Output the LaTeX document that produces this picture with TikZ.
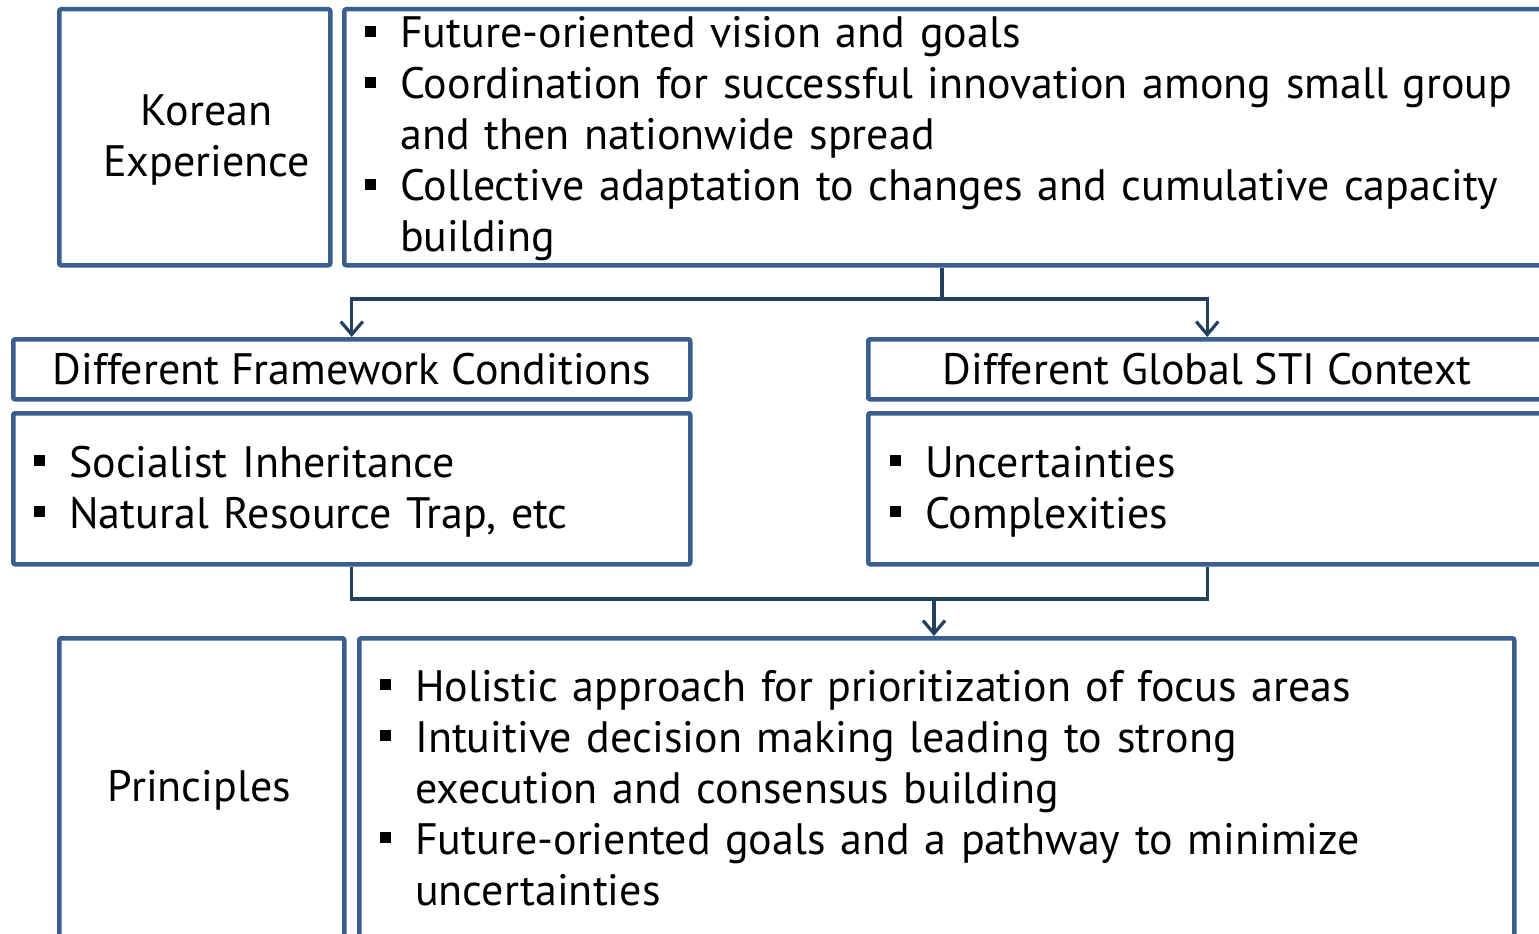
\documentclass[tikz,border=0pt]{standalone}
\usepackage{fontspec}
\setmainfont{PT Sans}
\usetikzlibrary{arrows.meta}
\definecolor{boxline}{HTML}{3A5F8E}
\definecolor{connline}{HTML}{24405F}
% square bullet, hanging indent kept across forced line breaks
\newcommand{\bmark}{\makebox[35pt][l]{\raisebox{11pt}{\rule{11pt}{11pt}}}}
\newcommand{\bfirst}{\noindent\hangindent=35pt\hangafter=1\bmark\ignorespaces}
\newcommand{\bnext}{\par\bfirst}
\newcommand{\nl}{\hfil\break}
\begin{document}
\begin{tikzpicture}[x=1pt,y=-1pt,
  every node/.style={font=\fontsize{44}{51}\selectfont},
  box/.style={draw=boxline, line width=4.5pt, rounded corners=2pt, anchor=north west, inner sep=0pt},
  list/.style={anchor=base west, inner sep=0pt, text width=1300pt, align=left},
  conn/.style={draw=connline, line width=3.2pt},
  arr/.style={conn, -{Straight Barb[length=13pt,width=22pt,line width=3.2pt]}}]
\useasboundingbox (0,0) rectangle (1539,934);
\clip (0,0) rectangle (1539,934);
\fill[white] (0,0) rectangle (1539,934);

% top row
\node[box, minimum width=271pt, minimum height=256pt] (ke) at (57,7) {};
\node[align=center, xshift=12pt, yshift=-3pt] (ketxt) at (ke.center) {Korean\\Experience};
\node[box, minimum width=1230pt, minimum height=256pt] (kl) at (342,7) {};
\node[list] (kltxt) at (365,48) {%
  \bfirst Future-oriented vision and goals
  \bnext Coordination for successful innovation among small group\nl and then nationwide spread
  \bnext Collective adaptation to changes and cumulative capacity\nl building\par};

% middle row
\node[box, minimum width=677pt, minimum height=60pt] (fw) at (11,337) {Different Framework Conditions};
\node[box, minimum width=678pt, minimum height=60pt] (gc) at (866,337) {Different Global STI Context};
\node[box, minimum width=677pt, minimum height=151pt] (lb) at (11,411) {};
\node[box, minimum width=678pt, minimum height=151pt] (rb) at (866,411) {};
\node[list] (lbtxt) at (34,477) {%
  \bfirst Socialist Inheritance
  \bnext Natural Resource Trap, etc\par};
\node[list] (rbtxt) at (890,477) {%
  \bfirst Uncertainties
  \bnext Complexities\par};

% bottom row
\node[box, minimum width=285pt, minimum height=340pt] (pr) at (57,636) {};
\node (prtxt) at (199.5,790) {Principles};
\node[box, minimum width=1155pt, minimum height=340pt] (pl) at (357,636) {};
\node[list] (pltxt) at (380,701) {%
  \bfirst Holistic approach for prioritization of focus areas
  \bnext Intuitive decision making leading to strong\nl execution and consensus building
  \bnext Future-oriented goals and a pathway to minimize\nl uncertainties\par};

% connectors
\coordinate (split) at (942,299);
\coordinate (merge) at (934,599);
\draw[conn] (kl.south -| split) -- (split);
\draw[arr] (split) -| (fw.north);
\draw[arr] (split) -| (gc.north);
\draw[conn] (lb.south) |- (merge) -| (rb.south);
\draw[arr] (merge) -- (pl.north -| merge);
\end{tikzpicture}
\end{document}
